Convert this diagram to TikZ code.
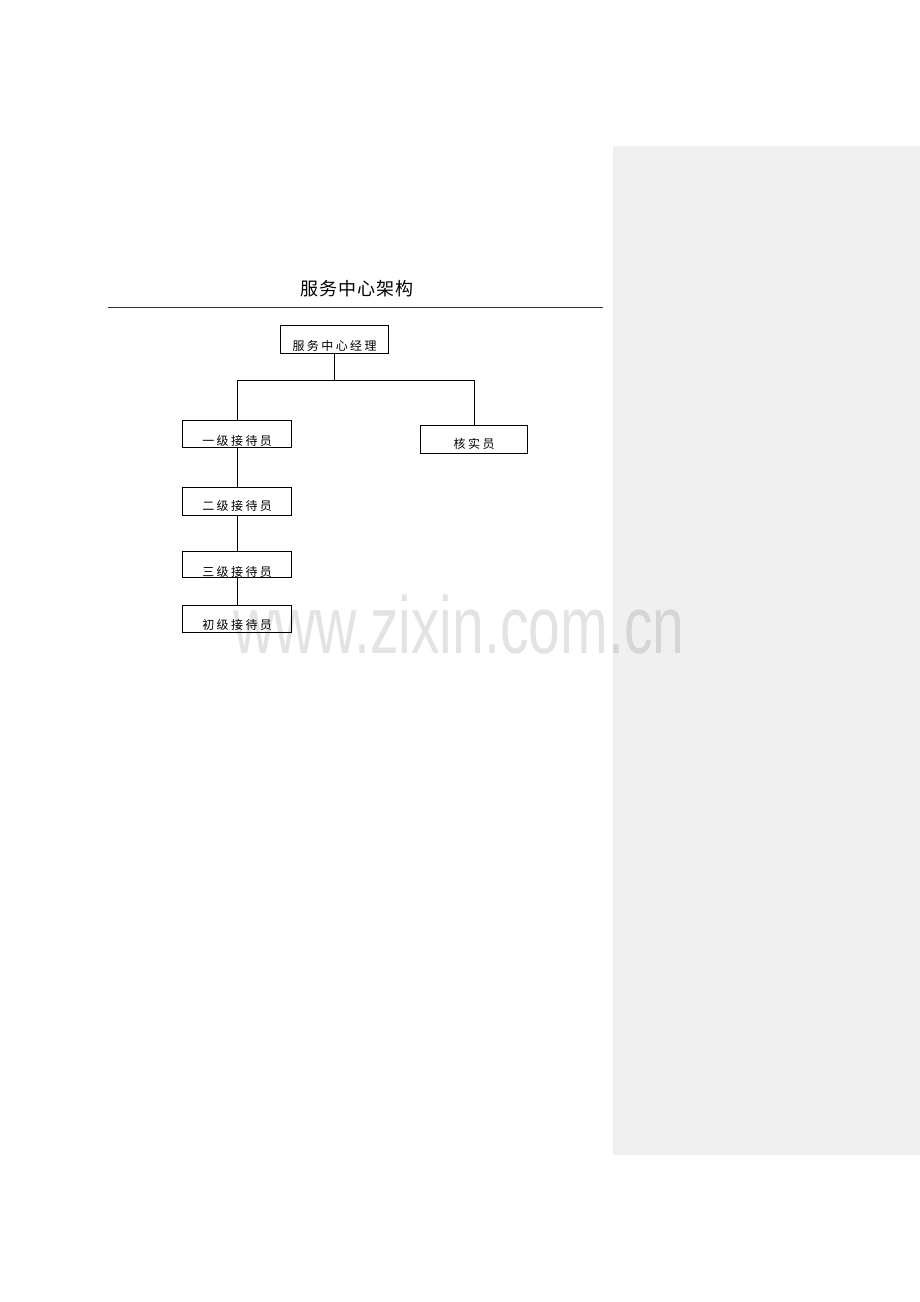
\documentclass[tikz,border=0pt]{standalone}
\usepackage{fontspec}
\newfontfamily\cjk[LetterSpace=20]{Noto Sans CJK SC}
\newfontfamily\cjktitle[LetterSpace=5]{Noto Sans CJK SC}
\newfontfamily\wmfont{Liberation Sans}
\begin{document}
\begin{tikzpicture}[x=1pt,y=-1pt,
  box/.style={draw=black, line width=1.2pt, inner sep=0pt, anchor=north west,
    font=\cjk\fontsize{12}{12}\selectfont, align=center},
  conn/.style={draw=black, line width=1pt}]
\useasboundingbox (0,0) rectangle (920,1302);
\fill[white] (0,0) rectangle (920,1302);
\fill[fill={rgb,255:red,240;green,240;blue,240}] (613,146) rectangle (920,1155);
% title
\node[anchor=base, inner sep=0pt, font=\cjktitle\fontsize{18}{18}\selectfont] (title) at (357,295) {服务中心架构};
\draw[line width=1pt, black!80] (108,307) -- (603,307);
% boxes
\node[box, minimum width=108pt, text height=24.6pt, text depth=3.4pt] (mgr) at (280,325) {服务中心经理};
\node[box, minimum width=109pt, text height=24.6pt, text depth=2.4pt] (l1) at (182,420) {一级接待员};
\node[box, minimum width=107pt, text height=22.6pt, text depth=5.4pt] (chk) at (420,425) {核实员};
\node[box, minimum width=109pt, text height=23pt, text depth=5pt] (l2) at (182,487) {二级接待员};
\node[box, minimum width=109pt, text height=24.5pt, text depth=1.5pt] (l3) at (182,551) {三级接待员};
\node[box, minimum width=109pt, text height=23.5pt, text depth=3.5pt] (l4) at (182,605) {初级接待员};
% connectors
\coordinate (bus) at (mgr.south |- 0,380);
\coordinate (busl) at (l1.north |- bus);
\coordinate (busr) at (chk.north |- bus);
\draw[conn] (mgr.south) -- (bus);
\draw[conn] (busl) -- (busr);
\draw[conn] (busl) -- (l1.north);
\draw[conn] (busr) -- (chk.north);
\draw[conn] (l1.south) -- (l2.north);
\draw[conn] (l2.south) -- (l3.north);
\draw[conn] (l3.south) -- (l4.north);
% watermark
\node[anchor=base, inner sep=0pt, xscale=0.706, transform shape, text=black, text opacity=0.11,
  font=\wmfont\fontsize{81}{81}\selectfont] (wm) at (459,653) {www.zixin.com.cn};
\end{tikzpicture}
\end{document}
